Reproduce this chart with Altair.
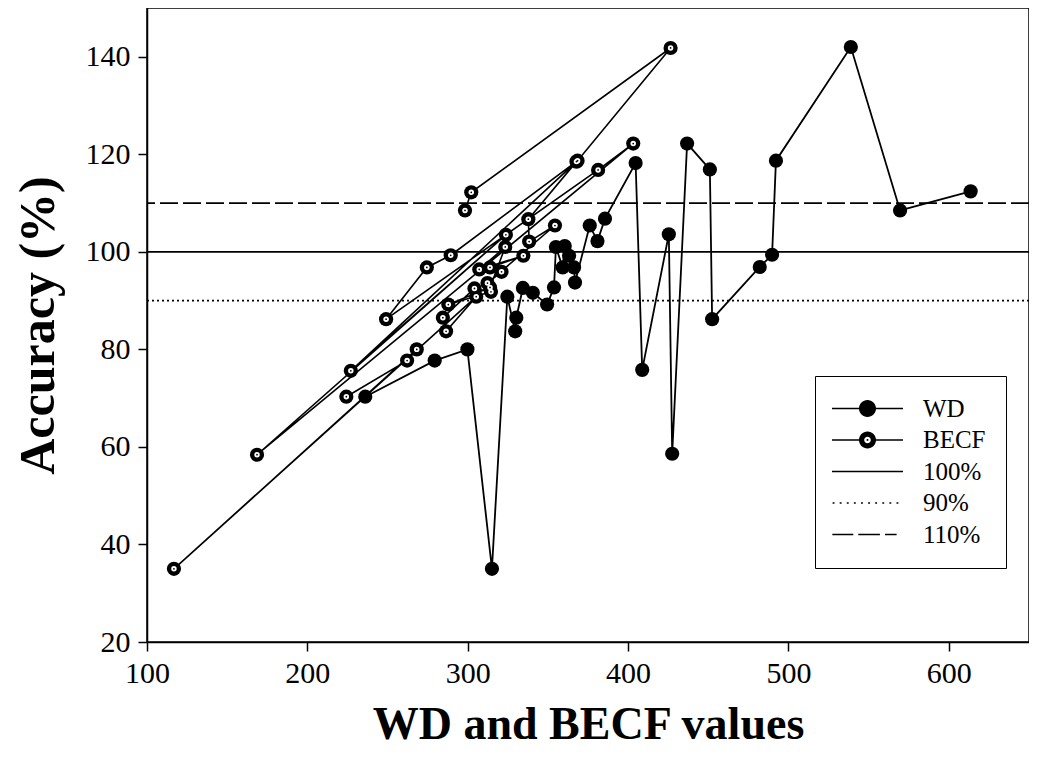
import altair as alt
import pandas as pd

# ---- data ----
wd_x = [236.1, 279.4, 299.8, 315.1, 324.7, 329.6, 330.3, 334.4, 340.6, 349.5,
        353.8, 355.0, 359.2, 360.5, 363.2, 366.3, 366.9, 376.1, 380.9, 385.6,
        404.7, 408.8, 425.4, 427.5, 436.8, 451.0, 452.4, 482.1, 489.8, 492.2,
        538.9, 569.6, 613.6]
wd_y = [70.3, 77.7, 80.0, 35.0, 90.8, 83.7, 86.5, 92.6, 91.6, 89.2,
        92.7, 101.0, 96.8, 101.2, 99.2, 96.8, 93.7, 105.4, 102.2, 106.8,
        118.2, 75.8, 103.6, 58.6, 122.2, 116.9, 86.2, 96.9, 99.4, 118.7,
        142.0, 108.5, 112.4]

becf_x = [224.3, 262.2, 268.2, 116.8, 305.3, 286.5, 284.5, 304.2, 314.5, 287.9,
          313.9, 323.4, 307.2, 334.7, 313.9, 321.1, 312.3, 354.4, 338.3, 337.8,
          367.8, 227.1, 323.8, 168.6, 403.2, 381.3, 249.1, 274.5, 289.4, 368.5,
          426.5, 302.2, 298.3]
becf_y = [70.3, 77.7, 80.0, 35.0, 90.8, 83.7, 86.5, 92.5, 91.8, 89.2,
          92.7, 101.0, 96.4, 99.2, 96.8, 95.9, 93.6, 105.4, 102.1, 106.7,
          118.5, 75.6, 103.5, 58.4, 122.2, 116.8, 86.2, 96.8, 99.3, 118.7,
          141.8, 112.2, 108.5]

ref_values = [100, 90, 110]
ref_labels = ["100%", "90%", "110%"]
legend_items = ["WD", "BECF", "100%", "90%", "110%"]

x_ticks = [100, 200, 300, 400, 500, 600]
y_ticks = [20, 40, 60, 80, 100, 120, 140]

FONT = "Liberation Serif"

wd_df = pd.DataFrame({"x": wd_x, "y": wd_y, "idx": range(len(wd_x))})
becf_df = pd.DataFrame({"x": becf_x, "y": becf_y, "idx": range(len(becf_x))})
ref_df = pd.DataFrame({"y": ref_values, "label": ref_labels})
leg_df = pd.DataFrame({"item": legend_items})

def X():
    return alt.X("x:Q", scale=alt.Scale(domain=[100, 650], nice=False, zero=False),
                 axis=alt.Axis(values=x_ticks, title="WD and BECF values", grid=False,
                               tickSize=9, tickWidth=1.5, tickColor="black",
                               domainColor="black", domainWidth=1.5,
                               labelFont=FONT, labelFontSize=30, labelColor="black",
                               labelPadding=7, labelFlush=False,
                               titleFont=FONT, titleFontSize=46, titleFontWeight="bold",
                               titleColor="black", titleBaseline="middle", titleY=82))

def Y():
    return alt.Y("y:Q", scale=alt.Scale(domain=[20, 150], nice=False, zero=False),
                 axis=alt.Axis(values=y_ticks, title="Accuracy (%)", grid=False,
                               tickSize=9, tickWidth=1.5, tickColor="black",
                               domainColor="black", domainWidth=1.5,
                               labelFont=FONT, labelFontSize=30, labelColor="black",
                               labelPadding=8, labelFlush=False,
                               titleFont=FONT, titleFontSize=50, titleFontWeight="bold",
                               titleColor="black", titleBaseline="middle", titleX=-109))

rules = alt.Chart(ref_df).mark_rule(color="black", strokeWidth=1.6).encode(
    y=Y(),
    strokeDash=alt.StrokeDash("label:N", legend=None,
                              scale=alt.Scale(domain=ref_labels,
                                              range=[[1, 0], [2, 3], [18, 5]])),
)

becf_line = alt.Chart(becf_df).mark_line(color="black", strokeWidth=1.6).encode(
    x=X(), y=Y(), order="idx:Q")
wd_line = alt.Chart(wd_df).mark_line(color="black", strokeWidth=1.8).encode(
    x=X(), y=Y(), order="idx:Q")

becf_outer = alt.Chart(becf_df).mark_circle(color="black", opacity=1, size=201).encode(x=X(), y=Y())
becf_inner = alt.Chart(becf_df).mark_circle(color="white", opacity=1, size=30).encode(x=X(), y=Y())
becf_dot = alt.Chart(becf_df).mark_circle(color="black", opacity=1, size=3).encode(x=X(), y=Y())
wd_pts = alt.Chart(wd_df).mark_circle(color="black", opacity=1, size=201).encode(x=X(), y=Y())

# ---- legend symbols as unit paths (line + marker) ----
h = 0.07
def rect(a, b, hh=h):
    return f"M{a},{-hh}H{b}V{hh}H{a}Z"
def circ(r, cw=True):
    s = 1 if cw else 0
    return f"M{-r},0A{r} {r} 0 1 {s} {r},0A{r} {r} 0 1 {s} {-r},0Z"

p_wd = rect(-3, 3) + circ(0.72)
p_becf = rect(-3, -0.66) + rect(0.66, 3) + circ(0.72) + circ(0.28, cw=False) + circ(0.08)
p_100 = rect(-3, 3)
p_90 = "".join(rect(-2.95 + i * 0.6, -2.95 + i * 0.6 + 0.16) for i in range(10))
p_110 = rect(-2.97, -1.2) + rect(-0.78, 1.05) + rect(1.48, 2.46)

legend_layer = alt.Chart(leg_df).transform_filter("false").mark_point(
    filled=True, color="black", opacity=1).encode(
    shape=alt.Shape("item:N",
                    scale=alt.Scale(domain=legend_items,
                                    range=[p_wd, p_becf, p_100, p_90, p_110]),
                    legend=alt.Legend(orient="none", legendX=668, legendY=368, title=None,
                                      padding=20, rowPadding=5.5, symbolSize=560,
                                      symbolOffset=20, labelOffset=43,
                                      symbolStrokeWidth=0, symbolFillColor="black",
                                      labelFont=FONT, labelFontSize=25, labelColor="black",
                                      labelLimit=0, strokeColor="black", fillColor="white")),
)

chart = alt.layer(rules, becf_line, wd_line, becf_outer, becf_inner, becf_dot, wd_pts,
                  legend_layer).properties(
    width=882, height=634,
    padding={"left": 139, "top": 0, "right": 0, "bottom": 115},
    autosize=alt.AutoSizeParams(type="none"),
).configure_view(stroke="black", strokeWidth=1.5)

chart.save("out.html", embed_options={"renderer": "svg", "actions": False})
